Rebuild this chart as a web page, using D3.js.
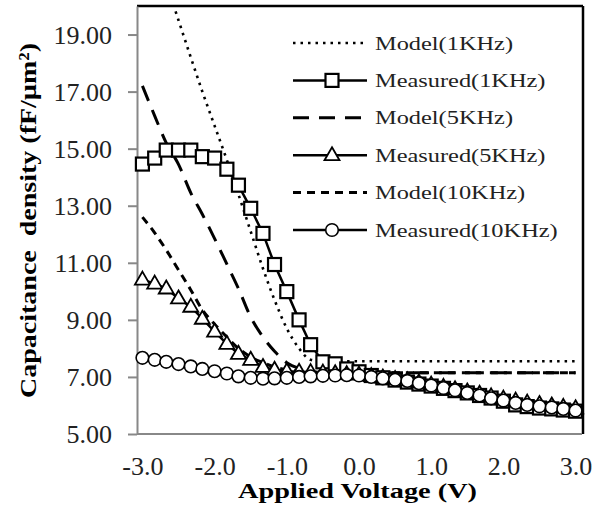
<!DOCTYPE html>
<html>
<head>
<meta charset="utf-8">
<script src="https://cdn.jsdelivr.net/npm/d3@7"></script>
<style>
  html, body { margin: 0; padding: 0; background: #fff; }
  svg { display: block; }
  text { font-family: "Liberation Serif", "Times New Roman", serif; }
</style>
</head>
<body>
<svg id="chart" width="594" height="515"></svg>
<script>
// ---------------- data ----------------
const voltage = [-3.00,-2.83,-2.67,-2.50,-2.33,-2.17,-2.00,-1.83,-1.67,-1.50,-1.33,-1.17,-1.00,-0.83,-0.67,-0.50,-0.33,-0.17,0.00,
                 0.17,0.33,0.50,0.67,0.83,1.00,1.17,1.33,1.50,1.67,1.83,2.00,2.17,2.33,2.50,2.67,2.83,3.00];

const model1k = [23.3,22.0,20.8,19.5,18.2,17.0,15.8,14.6,13.4,12.1,10.8,9.7,8.7,8.0,7.6,7.55,
                 7.55,7.55,7.55,7.55,7.55,7.55,7.55,7.55,7.55,7.55,7.55,7.55,7.55,7.55,7.55,7.55,7.55,7.55,7.55,7.55,7.55];
const measured1k = [14.46,14.67,14.95,14.95,14.95,14.72,14.67,14.28,13.72,12.91,12.03,10.94,9.99,9.00,8.13,7.53,7.46,7.28,7.18,
                    7.05,6.97,6.89,6.82,6.75,6.68,6.60,6.52,6.44,6.35,6.26,6.15,6.02,5.96,5.91,5.88,5.84,5.80];
const model5k = [17.2,16.15,15.2,14.45,13.45,12.7,11.85,10.95,10.1,9.1,8.4,7.9,7.5,7.3,7.2,7.15,
                 7.15,7.15,7.15,7.15,7.15,7.15,7.15,7.15,7.15,7.15,7.15,7.15,7.15,7.15,7.15,7.15,7.15,7.15,7.15,7.15,7.15];
const measured5k = [10.41,10.27,10.10,9.75,9.46,9.04,8.59,8.16,7.81,7.60,7.35,7.25,7.20,7.18,7.17,7.15,7.13,7.10,7.08,
                    7.03,6.98,6.93,6.88,6.81,6.73,6.65,6.57,6.49,6.41,6.32,6.24,6.17,6.10,6.05,6.00,5.95,5.90];
const model10k = [12.6,12.05,11.45,10.75,10.05,9.35,8.85,8.4,8.0,7.7,7.5,7.35,7.25,7.2,7.17,7.15,
                  7.15,7.15,7.15,7.15,7.15,7.15,7.15,7.15,7.15,7.15,7.15,7.15,7.15,7.15,7.15,7.15,7.15,7.15,7.15,7.15,7.15];
const measured10k = [7.67,7.60,7.53,7.45,7.37,7.28,7.20,7.12,7.02,6.97,6.94,6.95,6.97,7.00,7.02,7.04,7.05,7.06,7.05,
                     7.00,6.95,6.90,6.86,6.78,6.70,6.61,6.53,6.44,6.35,6.25,6.17,6.09,6.02,5.97,5.93,5.88,5.82];

const xTicks = [-3, -2, -1, 0, 1, 2, 3];
const yTicks = [5, 7, 9, 11, 13, 15, 17, 19];
const seriesNames = ["Model(1KHz)", "Measured(1KHz)", "Model(5KHz)", "Measured(5KHz)", "Model(10KHz)", "Measured(10KHz)"];

// ---------------- layout ----------------
const svg = d3.select("#chart");
const L = 137, R = 582, T = 6, B = 434;
const x = d3.scaleLinear().domain([-3.075, 3.089]).range([L, R]);
const y = d3.scaleLinear().domain([5, 20]).range([B, T]);

svg.append("defs").append("clipPath").attr("id", "plotclip")
  .append("rect").attr("x", L).attr("y", T).attr("width", R - L).attr("height", B - T);

// frame: black top & right
svg.append("line").attr("x1", L).attr("x2", R + 1).attr("y1", T).attr("y2", T)
  .attr("stroke", "#000").attr("stroke-width", 2.5);
svg.append("line").attr("x1", R + 1).attr("x2", R + 1).attr("y1", T).attr("y2", B)
  .attr("stroke", "#000").attr("stroke-width", 2.5);

// axes
const fmtY = d3.format(".2f");
const fmtX = v => d3.format(".1f")(v).replace("\u2212", "-");

const yAxis = svg.append("g").attr("transform", `translate(${L},0)`)
  .call(d3.axisLeft(y).tickValues(yTicks).tickFormat(fmtY).tickSize(9).tickSizeOuter(0).tickPadding(16));
yAxis.select(".domain").attr("stroke", "#888").attr("stroke-width", 2);
yAxis.selectAll(".tick line").attr("stroke", "#888").attr("stroke-width", 2);
yAxis.selectAll(".tick text").attr("font-size", 26).attr("fill", "#222")
  .attr("font-family", "Liberation Serif, serif").attr("dy", "0.34em");

const xAxis = svg.append("g").attr("transform", `translate(0,${B})`)
  .call(d3.axisBottom(x).tickValues(xTicks).tickFormat(fmtX).tickSize(0).tickSizeOuter(0));
xAxis.select(".domain").attr("stroke", "#888").attr("stroke-width", 2)
  .attr("d", `M${L},0H${R}`);
xAxis.selectAll(".tick text").attr("font-size", 26).attr("fill", "#222")
  .attr("font-family", "Liberation Serif, serif").attr("y", 41).attr("dy", 0);

// axis titles
svg.append("text").attr("x", 238).attr("y", 498)
  .attr("font-size", 22).attr("font-weight", "bold").attr("fill", "#000")
  .attr("textLength", 239).attr("lengthAdjust", "spacingAndGlyphs")
  .text("Applied Voltage (V)");

svg.append("text").attr("transform", "translate(36,398) rotate(-90)")
  .attr("font-size", 24).attr("font-weight", "bold").attr("fill", "#000")
  .style("white-space", "pre")
  .attr("textLength", 355).attr("lengthAdjust", "spacingAndGlyphs")
  .text("Capacitance  density (fF/\u00b5m\u00b2)");

// ---------------- series ----------------
const plot = svg.append("g").attr("clip-path", "url(#plotclip)");
const marks = svg.append("g");

const lineGen = d3.line().x((d, i) => x(voltage[i])).y(d => y(d));

const series = [
  { name: seriesNames[0], values: model1k, dash: "2.5,5", width: 2.6, marker: null, curve: d3.curveMonotoneX },
  { name: seriesNames[1], values: measured1k, dash: null, width: 2.5, marker: "square", curve: d3.curveLinear },
  { name: seriesNames[2], values: model5k, dash: "16,10", width: 3, marker: null, curve: d3.curveMonotoneX },
  { name: seriesNames[3], values: measured5k, dash: null, width: 2.5, marker: "triangle", curve: d3.curveLinear },
  { name: seriesNames[4], values: model10k, dash: "8,6", width: 3, marker: null, curve: d3.curveMonotoneX },
  { name: seriesNames[5], values: measured10k, dash: null, width: 2.5, marker: "circle", curve: d3.curveLinear }
];

function drawMarker(g, type, cx, cy) {
  if (type === "square") {
    g.append("rect").attr("x", cx - 6.5).attr("y", cy - 6.5).attr("width", 13).attr("height", 13)
      .attr("fill", "#fff").attr("stroke", "#000").attr("stroke-width", 2.2);
  } else if (type === "triangle") {
    g.append("path").attr("d", `M${cx},${cy - 8}L${cx + 7.5},${cy + 5}L${cx - 7.5},${cy + 5}Z`)
      .attr("fill", "#fff").attr("stroke", "#000").attr("stroke-width", 1.8);
  } else if (type === "circle") {
    g.append("circle").attr("cx", cx).attr("cy", cy).attr("r", 6.3)
      .attr("fill", "#fff").attr("stroke", "#000").attr("stroke-width", 1.6);
  }
}

series.forEach(s => {
  const g = plot.append("g");
  g.append("path").datum(s.values)
    .attr("d", lineGen.curve(s.curve))
    .attr("fill", "none").attr("stroke", "#000").attr("stroke-width", s.width)
    .attr("stroke-dasharray", s.dash);
  if (s.marker) {
    const mg = svg.append("g");
    s.values.forEach((v, i) => drawMarker(mg, s.marker, x(voltage[i]), y(v)));
  }
});

// ---------------- legend ----------------
const legend = svg.append("g");
const rowY0 = 43, rowStep = 37.4;
series.forEach((s, i) => {
  const ry = rowY0 + i * rowStep;
  legend.append("line").attr("x1", 293).attr("x2", 367).attr("y1", ry).attr("y2", ry)
    .attr("stroke", "#000").attr("stroke-width", s.width).attr("stroke-dasharray", s.dash);
  if (s.marker) drawMarker(legend, s.marker, 332, ry);
  legend.append("text").attr("transform", `translate(375,${ry + 6.5}) scale(1.25,1)`)
    .attr("font-size", 19.5).attr("fill", "#222")
    .text(s.name);
});
</script>
</body>
</html>
